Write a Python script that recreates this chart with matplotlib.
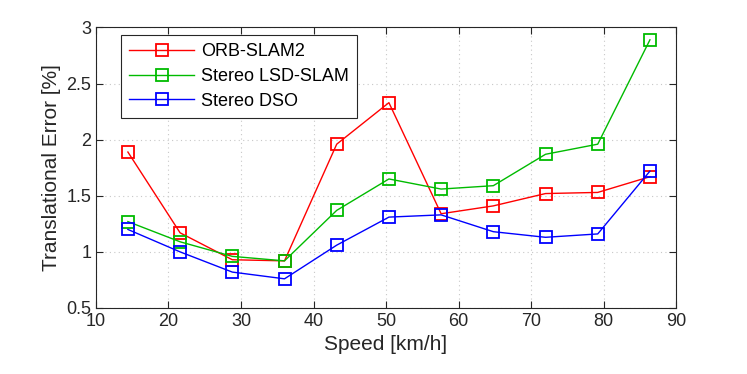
import matplotlib
matplotlib.use("Agg")
import matplotlib.pyplot as plt

plt.rcParams['font.family'] = ['Liberation Sans', 'DejaVu Sans']

speed = [14.4, 21.6, 28.8, 36.0, 43.2, 50.4, 57.6, 64.8, 72.0, 79.2, 86.4]
orb = [1.89, 1.17, 0.93, 0.92, 1.96, 2.33, 1.34, 1.41, 1.52, 1.53, 1.67]
lsd = [1.27, 1.09, 0.96, 0.92, 1.37, 1.65, 1.56, 1.59, 1.87, 1.96, 2.89]
dso = [1.20, 1.00, 0.82, 0.76, 1.06, 1.31, 1.33, 1.18, 1.13, 1.16, 1.72]
labels = ['ORB-SLAM2', 'Stereo LSD-SLAM', 'Stereo DSO']
colors = ['#ff0000', '#00bb00', '#0000ff']

fig = plt.figure(figsize=(7.47, 3.74), dpi=100)
ax = fig.add_axes([0.1285, 0.1765, 0.7765, 0.75])
for y, lab, c in zip([orb, lsd, dso], labels, colors):
    ax.plot(speed, y, '-s', color=c, label=lab, lw=1.0, ms=9,
            mfc='none', mec=c, mew=1.3)

ax.set_xlim(10, 90)
ax.set_ylim(0.5, 3)
ax.set_xticks(range(10, 91, 10))
ax.set_yticks([0.5, 1, 1.5, 2, 2.5, 3])
ax.set_yticklabels(['0.5', '1', '1.5', '2', '2.5', '3'])
ax.grid(True, linestyle=(0, (1, 3)), color='#c8c8c8', lw=0.8)
ax.tick_params(direction='in', top=True, right=True, labelsize=13, length=5, colors='#262626')
for s in ax.spines.values():
    s.set_color('#262626')
    s.set_linewidth(0.8)
ax.set_xlabel('Speed [km/h]', fontsize=15, color='#262626')
ax.set_ylabel('Translational Error [%]', fontsize=15, color='#262626')
leg = ax.legend(loc='upper left', bbox_to_anchor=(0.043, 0.972), fontsize=13,
                fancybox=False, edgecolor='#262626', framealpha=1,
                handlelength=3.6, borderpad=0.45, labelspacing=0.42, handletextpad=0.4,
                borderaxespad=0)
leg.get_frame().set_linewidth(0.8)
fig.savefig('out.png', dpi=100)
